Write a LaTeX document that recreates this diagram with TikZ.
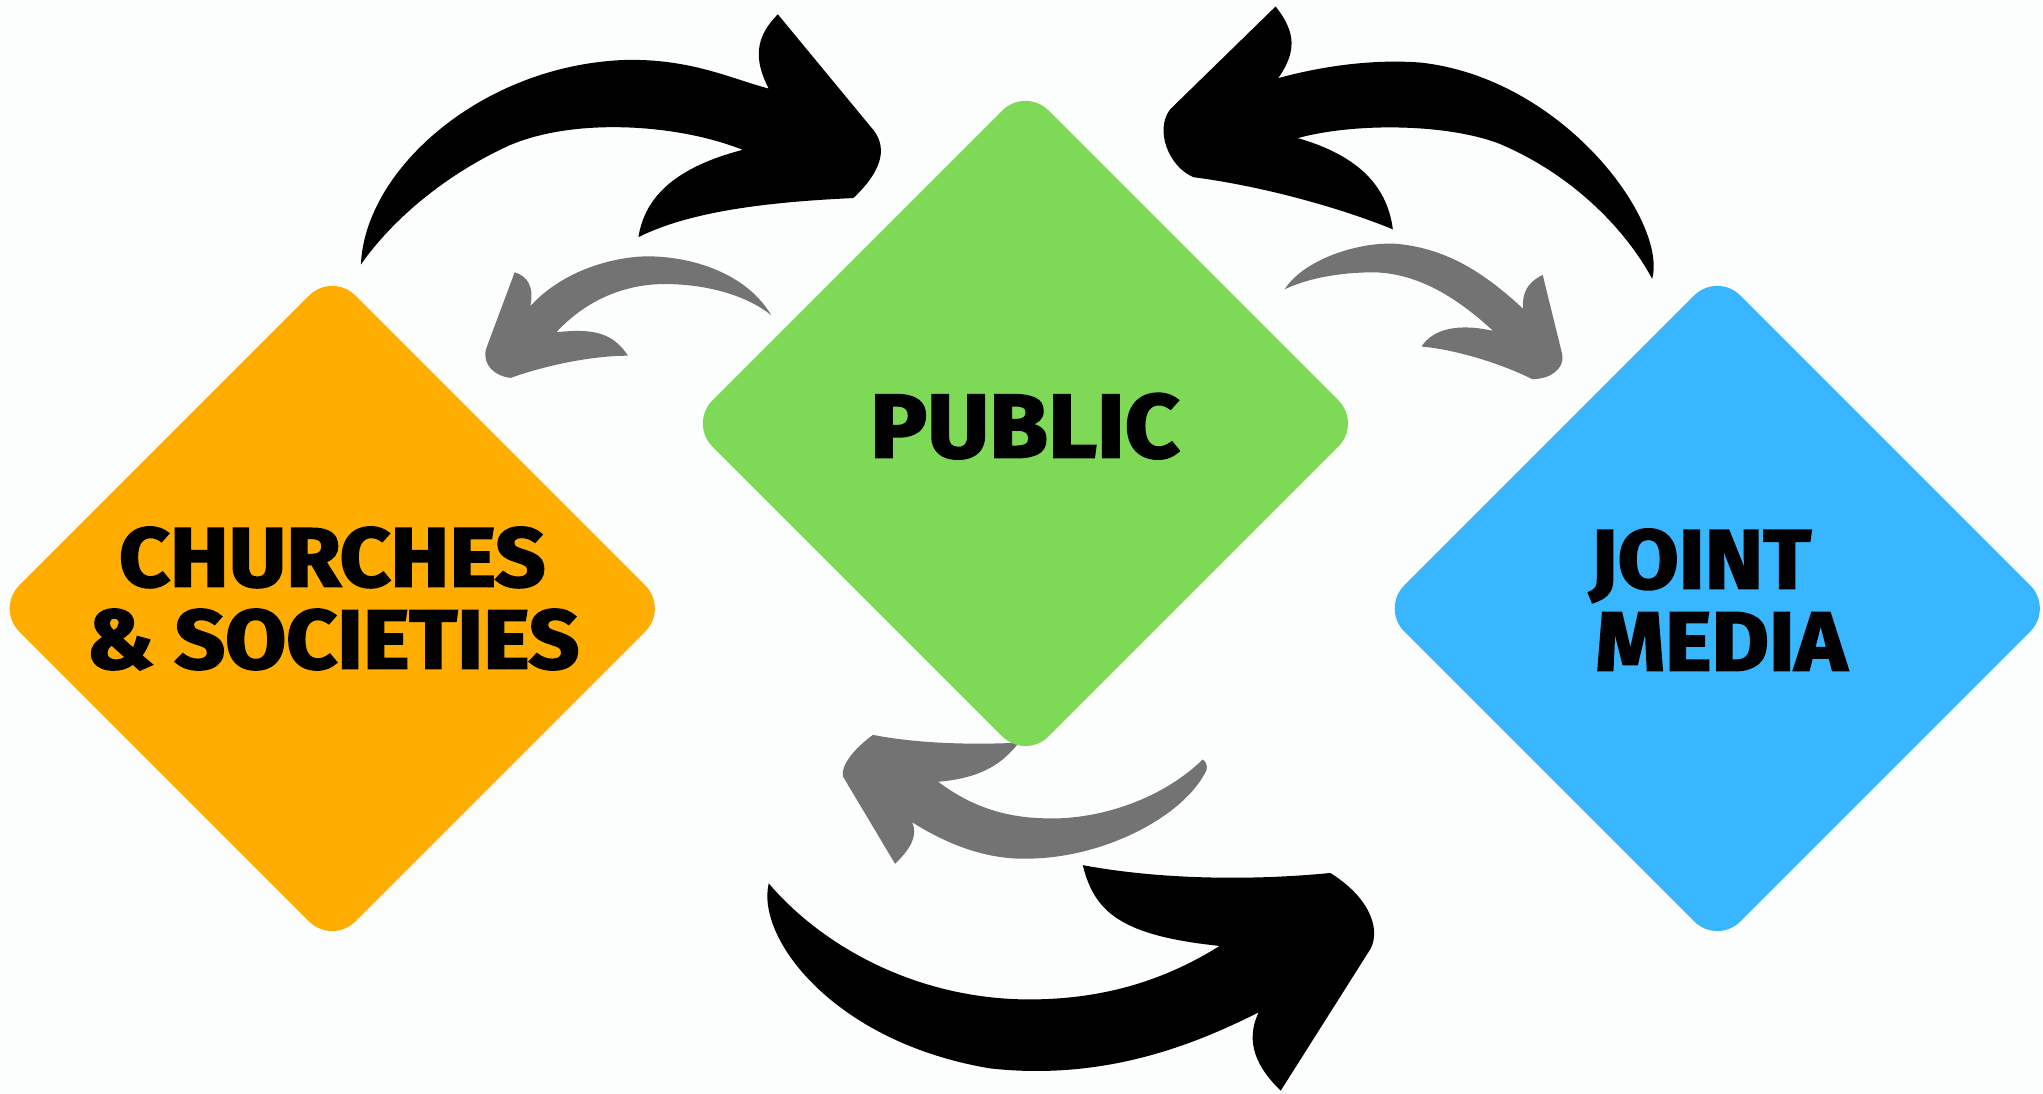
\documentclass[tikz,border=0pt]{standalone}
\usepackage{fontspec}
\setmainfont{Fira Sans}
\newfontfamily\heavy{Fira Sans}[FakeStretch=1.06, FakeBold=2.5]
\usetikzlibrary{shapes.geometric}
\definecolor{corange}{HTML}{FFAD00}
\definecolor{cgreen}{HTML}{7ED957}
\definecolor{cblue}{HTML}{38B6FF}
\definecolor{cgray}{HTML}{737373}
\definecolor{cbg}{HTML}{FCFDFD}
\begin{document}
\begin{tikzpicture}[x=1pt,y=-1pt,
  box/.style={diamond, aspect=1, minimum width=516pt, minimum height=516pt,
    inner sep=0pt, rounded corners=25pt},
  label/.style={anchor=base, inner sep=0pt, text=black, font=\heavy\bfseries\fontsize{64}{64}\selectfont},
  blackarrow/.style={fill=black},
  grayarrow/.style={fill=cgray}]
\useasboundingbox[fill=cbg] (0,0) rectangle (1568,839.6);

% top-left black arrow
\fill[blackarrow] (277,203) .. controls (280,130) and (370,50) .. (480,46)
  .. controls (530,45) and (560,60) .. (590,68)
  .. controls (578,45) and (580,28) .. (597,11)
  -- (668,97) .. controls (682,112) and (678,130) .. (655,152)
  .. controls (590,155) and (530,162) .. (490,182)
  .. controls (495,150) and (520,128) .. (570,115)
  .. controls (520,95) and (440,90) .. (390,112)
  .. controls (340,135) and (300,170) .. (277,203) -- cycle;

% top-right black arrow
\fill[blackarrow] (1268,214) .. controls (1280,170) and (1200,60) .. (1090,48)
  .. controls (1050,45) and (1010,52) .. (981,60)
  .. controls (995,40) and (995,25) .. (979,5)
  -- (898,84) .. controls (886,100) and (897,128) .. (916,136)
  .. controls (970,143) and (1030,160) .. (1069,176)
  .. controls (1065,145) and (1045,120) .. (996,106)
  .. controls (1040,94) and (1110,95) .. (1150,110)
  .. controls (1210,135) and (1250,180) .. (1268,214) -- cycle;

% top-left gray arrow
\fill[grayarrow] (592,242) .. controls (570,205) and (520,195) .. (490,197)
  .. controls (455,200) and (425,215) .. (407,235)
  .. controls (410,220) and (405,212) .. (395,209)
  -- (373,268) .. controls (370,280) and (380,289) .. (392,290)
  .. controls (420,280) and (455,273) .. (482,273)
  .. controls (470,255) and (455,252) .. (427,255)
  .. controls (450,230) and (480,218) .. (510,218)
  .. controls (545,218) and (575,228) .. (592,242) -- cycle;

% top-right gray arrow
\fill[grayarrow] (986,222) .. controls (1000,200) and (1040,186) .. (1070,187)
  .. controls (1110,190) and (1140,210) .. (1169,237)
  .. controls (1168,225) and (1172,217) .. (1184,211)
  -- (1199,272) .. controls (1201,283) and (1190,291) .. (1176,291)
  .. controls (1150,278) and (1115,268) .. (1091,266)
  .. controls (1100,252) and (1120,248) .. (1146,254)
  .. controls (1120,230) and (1090,210) .. (1055,209)
  .. controls (1030,209) and (1005,213) .. (986,222) -- cycle;

% bottom gray arrow
\fill[grayarrow] (923,583) .. controls (890,615) and (840,630) .. (800,628)
  .. controls (765,627) and (740,615) .. (720,600)
  .. controls (755,597) and (770,585) .. (782,570)
  .. controls (740,572) and (700,570) .. (670,564)
  .. controls (655,575) and (645,588) .. (647,596)
  -- (687,663)
  .. controls (698,652) and (705,642) .. (700,631)
  .. controls (730,650) and (760,660) .. (790,659)
  .. controls (850,658) and (910,625) .. (926,591)
  .. controls (927,587) and (925,584) .. (923,583) -- cycle;

% bottom black arrow
\fill[blackarrow] (590,678) .. controls (580,720) and (640,800) .. (760,820)
  .. controls (850,830) and (920,800) .. (966,777)
  .. controls (955,800) and (965,820) .. (983,837)
  -- (1052,728) .. controls (1060,712) and (1050,688) .. (1021,670)
  .. controls (960,676) and (890,675) .. (831,664)
  .. controls (840,700) and (860,718) .. (936,726)
  .. controls (890,755) and (840,768) .. (784,767)
  .. controls (700,765) and (630,725) .. (590,678) -- cycle;

% diamonds
\node[box, fill=corange] (churches) at (255,467) {};
\node[box, fill=cgreen] (public) at (787,325) {};
\node[box, fill=cblue] (media) at (1318,467) {};

% labels
\node[label] (churches1) at (255,450) {CHURCHES};
\node[label] (churches2) at (255.5,513) {\& SOCIETIES};
\node[label, font=\heavy\bfseries\fontsize{69}{69}\selectfont] (publictext) at (786.5,351) {PUBLIC};
\node[label] (media1) at (1305,451.5) {JOINT};
\node[label] (media2) at (1321,514.5) {MEDIA};
\end{tikzpicture}
\end{document}
